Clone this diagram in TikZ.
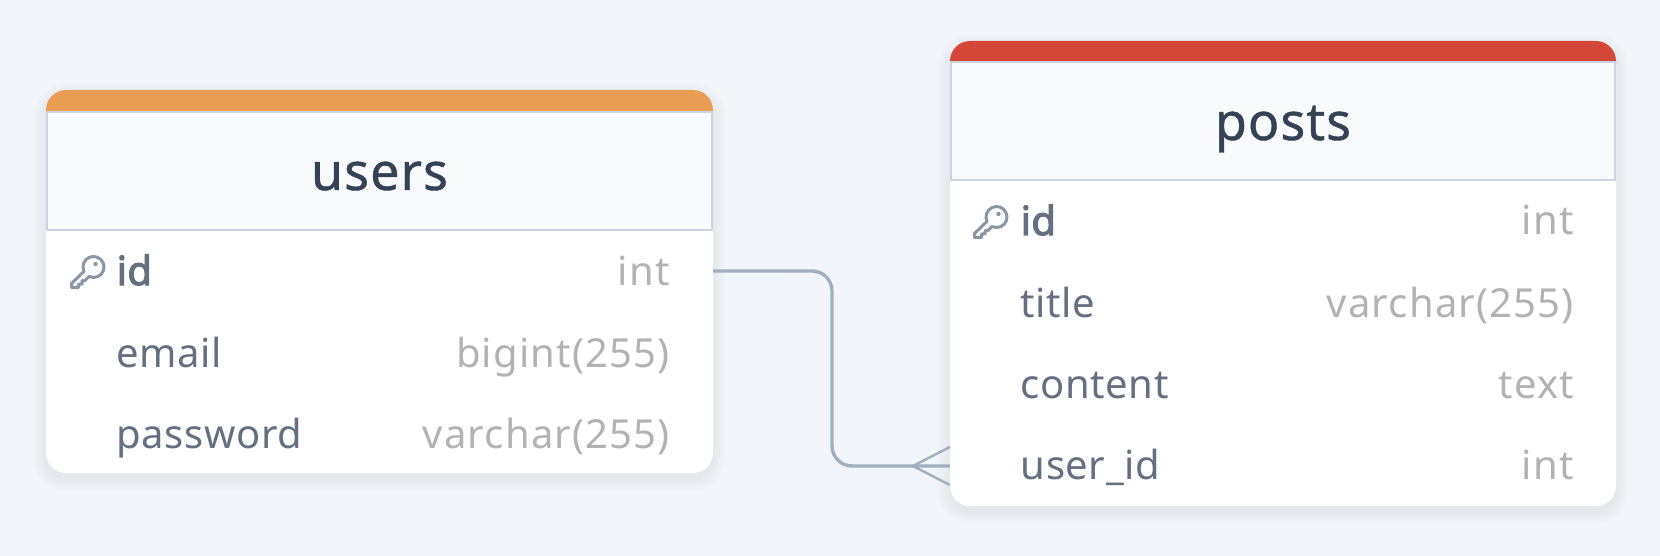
\documentclass[tikz,border=0pt]{standalone}
\usepackage{fontspec}
\setmainfont{Noto Sans}[LetterSpace=1.5]
\newfontfamily\keyfont{Noto Sans}[FakeBold=3, LetterSpace=1]
\newfontfamily\titlefont{Noto Sans}[FakeBold=0.8, LetterSpace=2]
\newfontfamily\typefont{Noto Sans}[LetterSpace=3]
\usetikzlibrary{calc}
\definecolor{pagebg}{HTML}{F2F5F9}
\definecolor{headfill}{HTML}{F8FAFC}
\definecolor{headline}{HTML}{CBD5E1}
\definecolor{titlecol}{HTML}{344256}
\definecolor{namecol}{HTML}{647080}
\definecolor{typecol}{HTML}{B2B2B2}
\definecolor{keycol}{HTML}{8A96A3}
\definecolor{relcol}{HTML}{A0AEC0}
\definecolor{usersbar}{HTML}{E99D54}
\definecolor{postsbar}{HTML}{D44638}
\tikzset{
  card/.style={rectangle, fill=white, rounded corners=20pt, inner sep=0pt,
    minimum width=667pt},
  headbox/.style={rectangle, fill=headfill, draw=headline, line width=2.8pt, inner sep=0pt,
    minimum width=665pt, minimum height=118pt},
  headtext/.style={anchor=base, inner sep=0pt,
    font=\titlefont\fontsize{52}{52}\selectfont, text=titlecol},
  rowbox/.style={rectangle, inner sep=0pt, minimum width=667pt, minimum height=81pt},
  colname/.style={anchor=base west, inner sep=0pt,
    font=\fontsize{40}{40}\selectfont, text=namecol},
  colkey/.style={colname, font=\keyfont\fontsize{40}{40}\selectfont},
  coltype/.style={anchor=base east, inner sep=0pt,
    font=\typefont\fontsize{40}{40}\selectfont, text=typecol},
  rel/.style={draw=relcol, line width=3.4pt, rounded corners=20pt},
  crow/.style={draw=relcol, line width=2.4pt},
  pics/keyicon/.style={code={
    \begin{scope}[y=1pt, x=1pt]
    \draw[keycol, line width=3pt, line join=round]
      (205:10.5) arc[start angle=205, end angle=-115, radius=10.5pt]
      -- (-8.5,-13.6) -- (-11.5,-13.6) -- (-11.5,-17) -- (-15,-17) -- (-15,-20.5)
      -- (-22,-20.5) -- (-22,-16.5) -- cycle;
    \fill[keycol] (2,3) circle (2.2pt);
    \end{scope}
  }}
}
\newcommand{\cardshadow}[4]{%
  \foreach \grow in {1,3,...,13} {
    \fill[black, opacity=0.006, rounded corners=20pt+\grow*1pt]
      (#1-\grow,#2+6-\grow) rectangle (#3+\grow,#4+5+\grow);
  }
}

\begin{document}
\begin{tikzpicture}[x=1pt, y=-1pt]

% Page
\fill[pagebg] (0,0) rectangle (1660,556);
\useasboundingbox (0,0) rectangle (1660,556);

% Soft shadows under both cards
\cardshadow{46}{90}{713}{473}
\cardshadow{950}{41}{1616}{506}

% Table users
\node[card, minimum height=383pt] (users) at (379.5,281.5) {};
\fill[usersbar] (46,112) [rounded corners=20pt] -- (46,90) -- (713,90) [sharp corners] -- (713,112) -- cycle;
\node[headbox] (users-head) at (379.5,171) {};
\node[headtext] (users-title) at (379.5,190) {users};

\node[rowbox] (users-id) at (379.5,271) {};
\node[rowbox] (users-email) at (379.5,352) {};
\node[rowbox] (users-password) at (379.5,433) {};

\pic at (93.5,267) {keyicon};
\node[colkey] (users-id-name) at (116.5,285) {id};
\node[coltype] (users-id-type) at (670,285) {int};
\node[colname] (users-email-name) at (116.5,367) {email};
\node[coltype] (users-email-type) at (670,367) {bigint(255)};
\node[colname] (users-password-name) at (116.5,448) {password};
\node[coltype] (users-password-type) at (670,448) {varchar(255)};

% Table posts
\node[card, minimum width=666pt, minimum height=465pt] (posts) at (1283,273.5) {};
\fill[postsbar] (950,63) [rounded corners=20pt] -- (950,41) -- (1616,41) [sharp corners] -- (1616,63) -- cycle;
\node[headbox, minimum width=664pt] (posts-head) at (1283,121) {};
\node[headtext] (posts-title) at (1283,140) {posts};

\node[rowbox, minimum width=666pt] (posts-id) at (1283,221) {};
\node[rowbox, minimum width=666pt] (posts-title-row) at (1283,303) {};
\node[rowbox, minimum width=666pt] (posts-content) at (1283,384) {};
\node[rowbox, minimum width=666pt] (posts-user) at (1283,466) {};

\pic at (996.5,217) {keyicon};
\node[colkey] (posts-id-name) at (1020.5,235) {id};
\node[coltype] (posts-id-type) at (1574,235) {int};
\node[colname] (posts-title-name) at (1020.5,317) {title};
\node[coltype] (posts-title-type) at (1574,317) {varchar(255)};
\node[colname] (posts-content-name) at (1020.5,398) {content};
\node[coltype] (posts-content-type) at (1574,398) {text};
\node[colname] (posts-user-name) at (1020.5,479) {user\_id};
\node[coltype] (posts-user-type) at (1574,479) {int};

% Relation
\coordinate (relmid) at (832,370);
\coordinate (crowtip) at (913,466);
\draw[rel] (users-id.east) -| (relmid) |- (posts-user.west);
\draw[crow] ($(posts-user.west)+(0,-19)$) -- (crowtip) -- ($(posts-user.west)+(0,19)$);

\end{tikzpicture}
\end{document}
